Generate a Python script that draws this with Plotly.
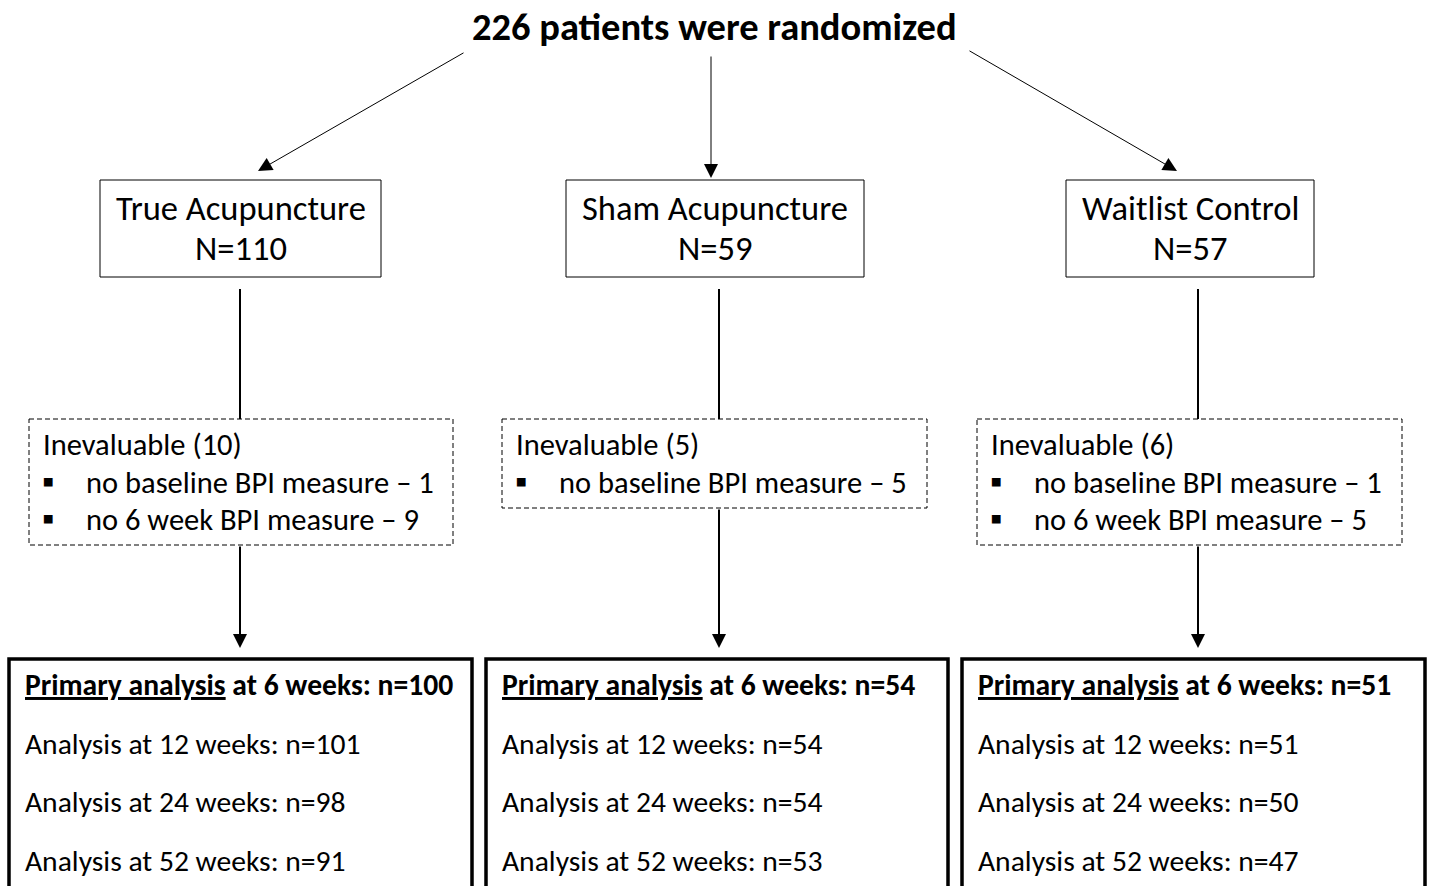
import plotly.graph_objects as go

# ---- data ----
title_text = "226 patients were randomized"
arms = ["True Acupuncture", "Sham Acupuncture", "Waitlist Control"]
arm_n = [110, 59, 57]
inevaluable = [10, 5, 6]
reasons = [
    [("no baseline BPI measure", 1), ("no 6 week BPI measure", 9)],
    [("no baseline BPI measure", 5)],
    [("no baseline BPI measure", 1), ("no 6 week BPI measure", 5)],
]
weeks = [6, 12, 24, 52]
analysis_n = [
    [100, 101, 98, 91],
    [54, 54, 54, 53],
    [51, 51, 50, 47],
]

# ---- layout geometry (page pixels) ----
W, H = 1434, 886
FONT = "Carlito, Calibri, Lato, sans-serif"
arm_boxes = [(100, 381), (566, 864), (1066, 1314)]
arm_box_y = (180, 277)
col_x = [240, 719, 1198]
dash_boxes = [(29, 453, 545), (502, 927, 508), (977, 1402, 545)]
dash_top = 419
bottom_boxes = [(9, 472), (486, 948), (962, 1425)]
bottom_top = 659
arrow_tails = [(465, 52), (711, 55), (968, 50)]
arrow_heads = [(258, 171), (711, 178), (1177, 171)]

fig = go.Figure()
shapes = []
ann = []

# title
ann.append(dict(x=714, y=26, text="<b>" + title_text + "</b>", showarrow=False,
                xanchor="center", yanchor="middle", font=dict(size=38.5, color="black")))

# top arrows
for (tx, ty), (hx, hy) in zip(arrow_tails, arrow_heads):
    ann.append(dict(x=hx, y=hy, ax=tx, ay=ty, xref="x", yref="y", axref="x", ayref="y",
                    text="", showarrow=True, arrowhead=2, arrowsize=2.8, arrowwidth=1,
                    arrowcolor="black", standoff=0))

for i in range(3):
    x0, x1 = arm_boxes[i]
    shapes.append(dict(type="rect", x0=x0, x1=x1, y0=arm_box_y[0], y1=arm_box_y[1],
                       line=dict(color="black", width=1), fillcolor="white", layer="below"))
    cx = (x0 + x1) / 2
    ann.append(dict(x=cx, y=208, text=arms[i], showarrow=False, xanchor="center",
                    yanchor="middle", font=dict(size=34.5, color="black")))
    ann.append(dict(x=cx, y=248, text="N=%d" % arm_n[i], showarrow=False, xanchor="center",
                    yanchor="middle", font=dict(size=34.5, color="black")))
    # connector line to dashed box
    shapes.append(dict(type="line", x0=col_x[i], x1=col_x[i], y0=289, y1=dash_top,
                       line=dict(color="black", width=2)))
    # dashed box
    dx0, dx1, dy1 = dash_boxes[i]
    shapes.append(dict(type="rect", x0=dx0, x1=dx1, y0=dash_top, y1=dy1,
                       line=dict(color="black", width=1, dash="5px,3px")))
    ann.append(dict(x=dx0 + 12, y=444, text="Inevaluable (%d)" % inevaluable[i],
                    showarrow=False, xanchor="left", yanchor="middle",
                    font=dict(size=30.5, color="black")))
    for j, (reason, cnt) in enumerate(reasons[i]):
        yy = 482 + 37 * j
        ann.append(dict(x=dx0 + 11, y=yy - 1, text="▪", showarrow=False, xanchor="left",
                        yanchor="middle", font=dict(size=34, color="black")))
        ann.append(dict(x=dx0 + 55, y=yy, text="%s – %d" % (reason, cnt), showarrow=False,
                        xanchor="left", yanchor="middle", font=dict(size=30.5, color="black")))
    # arrow to bottom box
    ann.append(dict(x=col_x[i], y=648, ax=col_x[i], ay=dy1, xref="x", yref="y",
                    axref="x", ayref="y", text="", showarrow=True, arrowhead=2,
                    arrowsize=1.4, arrowwidth=2, arrowcolor="black", standoff=0))
    # bottom box
    bx0, bx1 = bottom_boxes[i]
    shapes.append(dict(type="rect", x0=bx0, x1=bx1, y0=bottom_top, y1=H + 2,
                       line=dict(color="black", width=3.5)))
    for k, wk in enumerate(weeks):
        yy = 685 + 58.7 * k
        if k == 0:
            txt = "<b><u>Primary analysis</u> at %d weeks: n=%d</b>" % (wk, analysis_n[i][k])
        else:
            txt = "Analysis at %d weeks: n=%d" % (wk, analysis_n[i][k])
        ann.append(dict(x=bx0 + 14, y=yy, text=txt, showarrow=False, xanchor="left",
                        yanchor="middle", font=dict(size=29.6, color="black")))

fig.update_layout(
    width=W, height=H, autosize=False,
    margin=dict(l=0, r=0, t=0, b=0),
    paper_bgcolor="white", plot_bgcolor="white",
    font=dict(family=FONT, color="black"),
    xaxis=dict(range=[0, W], visible=False, fixedrange=True),
    yaxis=dict(range=[H, 0], visible=False, fixedrange=True),
    shapes=shapes, annotations=ann, showlegend=False,
)
fig.write_html("out.html", config={"displayModeBar": False},
               post_script="document.body.style.margin='0';document.body.style.overflow='hidden';")
